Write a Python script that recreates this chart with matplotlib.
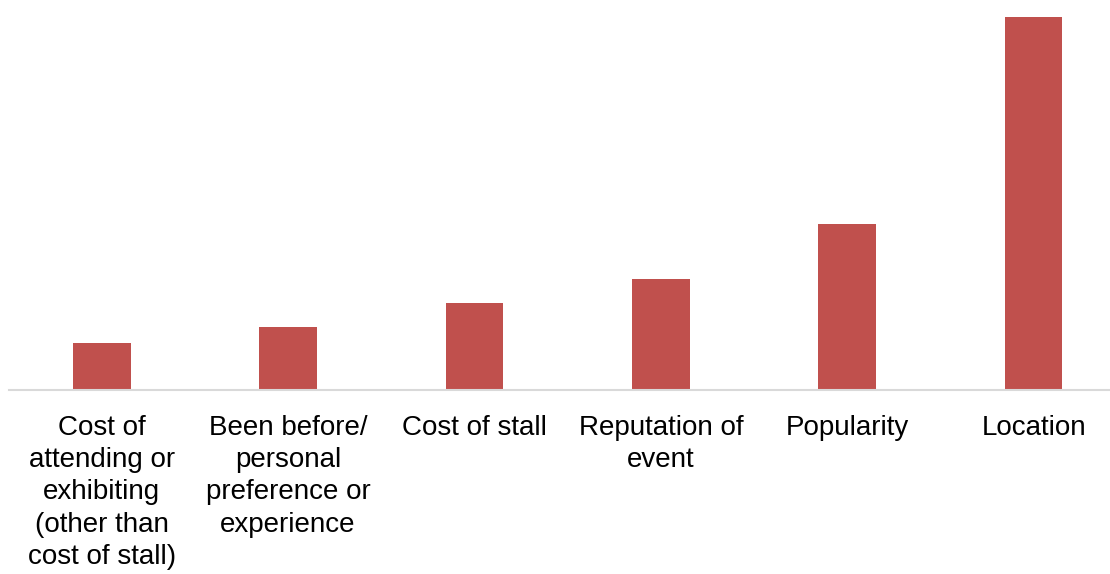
import matplotlib.pyplot as plt

plt.rcParams['font.family'] = ['Liberation Sans', 'DejaVu Sans']

categorias = ['Cost of\nattending or\nexhibiting\n(other than\ncost of stall)',
              'Been before/\npersonal\npreference or\nexperience',
              'Cost of stall',
              'Reputation of\nevent',
              'Popularity',
              'Location']
valores = [5.9, 7.9, 10.9, 13.9, 20.9, 46.9]

fig = plt.figure(figsize=(11.1, 5.74), dpi=100)
ax = fig.add_axes([8.5/1110, 184/574, 1101.5/1110, 390/574])

x = range(len(categorias))
ax.bar(x, valores, width=0.31, color='#C0504D')

ax.set_xlim(-0.5, 5.41)
ax.set_ylim(0, 49)
ax.set_xticks(list(x))
ax.set_xticklabels(categorias, fontsize=20, linespacing=1.31)
ax.tick_params(axis='x', length=0, pad=18)
ax.set_yticks([])
for lado in ['top', 'right', 'left']:
    ax.spines[lado].set_visible(False)
ax.spines['bottom'].set_color('#D9D9D9')
ax.spines['bottom'].set_linewidth(1.5)

plt.savefig('out.png', dpi=100)
